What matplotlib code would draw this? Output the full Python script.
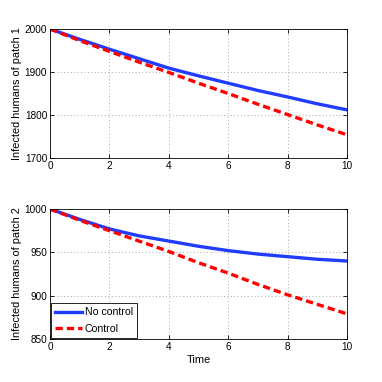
import matplotlib
matplotlib.use("Agg")
import matplotlib.pyplot as plt

plt.rcParams['font.family'] = ['Liberation Sans', 'DejaVu Sans']
NARROW = ['Liberation Sans Narrow', 'Liberation Sans', 'DejaVu Sans']

time = [0, 1, 2, 3, 4, 5, 6, 7, 8, 9, 10]
p1_no_control = [2000, 1976, 1953, 1931, 1909, 1891, 1874, 1857, 1842, 1826, 1812]
p1_control = [2000, 1973, 1948, 1923, 1899, 1874, 1850, 1825, 1801, 1777, 1754]
p2_no_control = [1000, 988, 977, 969, 963, 957, 952, 948, 945, 942, 940]
p2_control = [1000, 987, 975, 963, 951, 938, 926, 913, 901, 890, 879]

fig = plt.figure(figsize=(3.82, 3.82), dpi=100)
ax1 = fig.add_axes([50/382, 1-158/382, 297/382, 129/382])
ax2 = fig.add_axes([50/382, 1-339/382, 297/382, 130/382])

def style(ax, ylim, yticks, ylabel):
    ax.set_xlim(0, 10)
    ax.set_ylim(*ylim)
    ax.set_xticks([0, 2, 4, 6, 8, 10])
    ax.set_yticks(yticks)
    ax.grid(True, linestyle=(0, (1, 2.5)), color='#aaaaaa', linewidth=0.7)
    ax.tick_params(direction='in', length=3, width=0.6, top=True, right=True, pad=2)
    for lab in ax.get_xticklabels() + ax.get_yticklabels():
        lab.set_fontfamily(NARROW)
        lab.set_fontsize(7.2)
    for s in ax.spines.values():
        s.set_linewidth(0.6)
    ax.set_ylabel(ylabel, fontsize=7.9, labelpad=2)

ax1.plot(time, p1_no_control, color='#1f3cff', lw=2.4, label='No control')
ax1.plot(time, p1_control, color='#ff0000', lw=2.4, ls=(0, (2.2, 1.2)), label='Control')
style(ax1, (1700, 2000), [1700, 1800, 1900, 2000], 'Infected humans of patch 1')

ax2.plot(time, p2_no_control, color='#1f3cff', lw=2.4, label='No control')
ax2.plot(time, p2_control, color='#ff0000', lw=2.4, ls=(0, (2.2, 1.2)), label='Control')
style(ax2, (850, 1000), [850, 900, 950, 1000], 'Infected humans of patch 2')
ax2.set_xlabel('Time', fontsize=7.9, labelpad=2, family=NARROW)
leg = ax2.legend(loc='lower left', fancybox=False, framealpha=1,
                 prop={'family': NARROW, 'size': 7.6},
                 edgecolor='black', borderaxespad=0.1, handlelength=2.5,
                 borderpad=0.4, labelspacing=0.6, handletextpad=0.3)
leg.get_frame().set_linewidth(0.6)

fig.savefig('out.png', dpi=100)
